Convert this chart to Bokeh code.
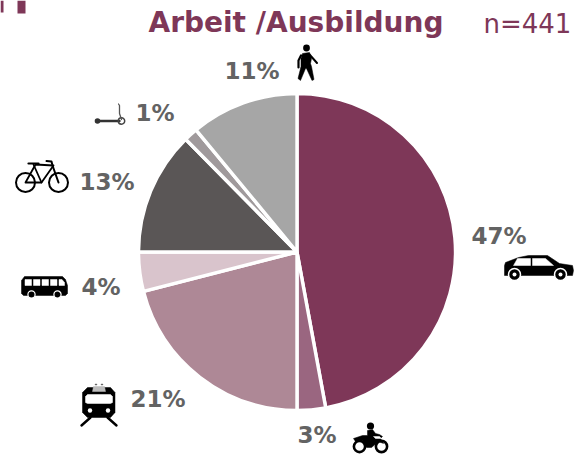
from math import pi
from bokeh.plotting import figure
from bokeh.models import Range1d
from bokeh.core.properties import value
from bokeh.embed import file_html
from bokeh.resources import INLINE

categories = ["Auto", "Motorrad", "Bahn", "Bus", "Fahrrad", "Roller", "Zu Fuss"]
shares = [47.1, 2.9, 21.0, 4.0, 12.6, 1.4, 11.0]
labels = ["47%", "3%", "21%", "4%", "13%", "1%", "11%"]
colors = ["#7E3758", "#9A6680", "#AE8896", "#D9C4CC", "#5A5656", "#A09A9C", "#A6A6A6"]
label_pos = [(471, 244), (297, 443), (130, 407), (81, 295), (79, 190), (135, 121), (224, 79)]
title = "Arbeit /Ausbildung"
n_text = "n=441"

OX, OY = 0, 0
W, H = 574, 455
p = figure(width=W, height=H, output_backend="svg", toolbar_location=None,
           x_range=Range1d(OX, OX + W), y_range=Range1d(-(OY + H), -OY),
           min_border=0, outline_line_color=None, background_fill_color="white")
p.axis.visible = False
p.grid.visible = False

def Y(v):
    return -v
def YS(vs):
    return [-v for v in vs]

# pie
CX, CY, R = 296.5, 251.5, 158.5
acc = 0.0
for s, c in zip(shares, colors):
    a0 = pi / 2 - acc / 100 * 2 * pi
    acc += s
    a1 = pi / 2 - acc / 100 * 2 * pi
    p.wedge(x=[CX], y=[Y(CY)], radius=R, start_angle=a1, end_angle=a0,
            fill_color=c, line_color="white", line_width=3.4)

# texts (the page's alphabetic baseline lands about 0.38 em below the given y)
for t, (x, y) in zip(labels, label_pos):
    p.text(x=[x], y=[Y(y - 9)], text=[t], text_font=value("DejaVu Sans"), text_font_style="bold",
           text_font_size="23px", text_color="#636363", text_baseline="alphabetic")
p.text(x=[148], y=[Y(33 - 11)], text=[title], text_font=value("DejaVu Sans"), text_font_style="bold",
       text_font_size="28px", text_color="#7E3758", text_baseline="alphabetic")
p.text(x=[483], y=[Y(33 - 10)], text=[n_text], text_font=value("DejaVu Sans"),
       text_font_size="26px", text_color="#7E3758", text_baseline="alphabetic")

# corner marks
p.patch([17, 25, 25, 17], YS([0, 0, 13, 13]), color="#7E3758", line_width=0)
p.patch([0, 3, 3, 0], YS([0, 0, 12, 12]), color="#7E3758", line_width=0)

K = "#000000"
def poly(xs, ys, c=K):
    p.patch(xs, YS(ys), fill_color=c, line_color=c, line_width=0.5)
def line(xs, ys, w=2, c=K):
    p.line(xs, YS(ys), line_color=c, line_width=w, line_cap="round", line_join="round")
def disc(x, y, r, c=K, lc=None, lw=1):
    p.circle([x], [Y(y)], radius=r, fill_color=c, line_color=lc, line_width=lw)
def ring(x, y, r, lw=2, c=K):
    p.circle([x], [Y(y)], radius=r, fill_color=None, line_color=c, line_width=lw)

# walker
disc(306, 47.5, 3.4)
poly([302, 309, 311, 310, 311, 313.5, 311.5, 306, 305, 300, 297.5, 300.5, 300.5],
     [53, 52, 58, 63, 66, 79, 80, 68, 68, 80, 78, 66, 58])
line([309, 316.5], [54, 62.5], 2.0)
line([300.5, 298, 298], [55, 60, 67], 2.2)

# scooter
line([96, 119], [120.5, 120.5], 2.4, "#333333")
disc(97, 120.5, 2.8, "#333333")
ring(121, 120.5, 3.2, 1.5, "#444444")
line([121, 119, 119, 118], [119, 113, 105, 103.5], 1.3, "#555555")

# bike
ring(25, 182, 9.5, 2)
ring(58, 182, 9.5, 2)
line([25, 35, 53, 41, 25], [182, 164, 165, 182, 182], 1.8)
line([33, 41], [164, 182], 1.8)
line([28, 38], [163, 163], 2.2)
line([58, 52, 51, 46], [182, 165, 161, 160.5], 2.0)

# bus
poly([24, 62, 65, 67, 67, 65, 23, 21, 21], [276, 276, 279, 285, 293, 295, 295, 293, 280])
for bx in (24.5, 33, 41.5, 50):
    poly([bx, bx + 6.5, bx + 6.5, bx], [279, 279, 285, 285], "white")
poly([58.5, 61.5, 64, 64, 58.5], [279, 279, 282, 285, 285], "white")
disc(31, 294, 3.6, K, "white", 1.2)
disc(57, 294, 3.6, K, "white", 1.2)

# train
poly([87, 110, 114.5, 114.5, 110, 87, 82, 82], [387, 387, 392, 412, 417, 417, 412, 392])
poly([87, 110, 112, 112, 110, 87, 85, 85], [394, 394, 396, 402, 403, 403, 402, 396], "white")
poly([93, 104, 105, 92], [386, 386, 391, 391], "#BBBBBB")
disc(89.5, 410, 2.2, "white")
disc(107.5, 410, 2.2, "white")
line([90, 81], [417, 425], 2.4)
line([107, 116], [417, 425], 2.4)
line([95, 96], [384, 384], 1.5, "#666666")
line([101, 102], [384, 384], 1.5, "#666666")

# motorcycle
ring(359, 446, 5.6, 2.6)
ring(381, 446, 5.6, 2.6)
disc(370, 425.5, 3.6)
poly([367, 372, 375, 379, 382, 380, 383, 378, 371, 366, 362, 355, 353, 362, 367],
     [430, 429, 433, 434, 436, 438, 443, 441, 447, 447, 440, 441, 438, 435, 435])
poly([373, 379, 381, 375], [436, 436, 438, 438], "white")

# car
poly([504, 505, 518, 528, 547, 559, 572, 573, 572, 504],
     [265, 262, 257, 255, 255, 263, 265, 270, 275, 275])
poly([517, 530, 530, 513], [258, 258, 265, 265], "white")
poly([532, 545, 553, 532], [258, 258, 265, 265], "white")
disc(514, 274, 6, K, "white", 1.5)
disc(560, 274, 6, K, "white", 1.5)
disc(514, 274, 2, "white")
disc(560, 274, 2, "white")

html = file_html(p, INLINE)
open("out.html", "w").write(html)
